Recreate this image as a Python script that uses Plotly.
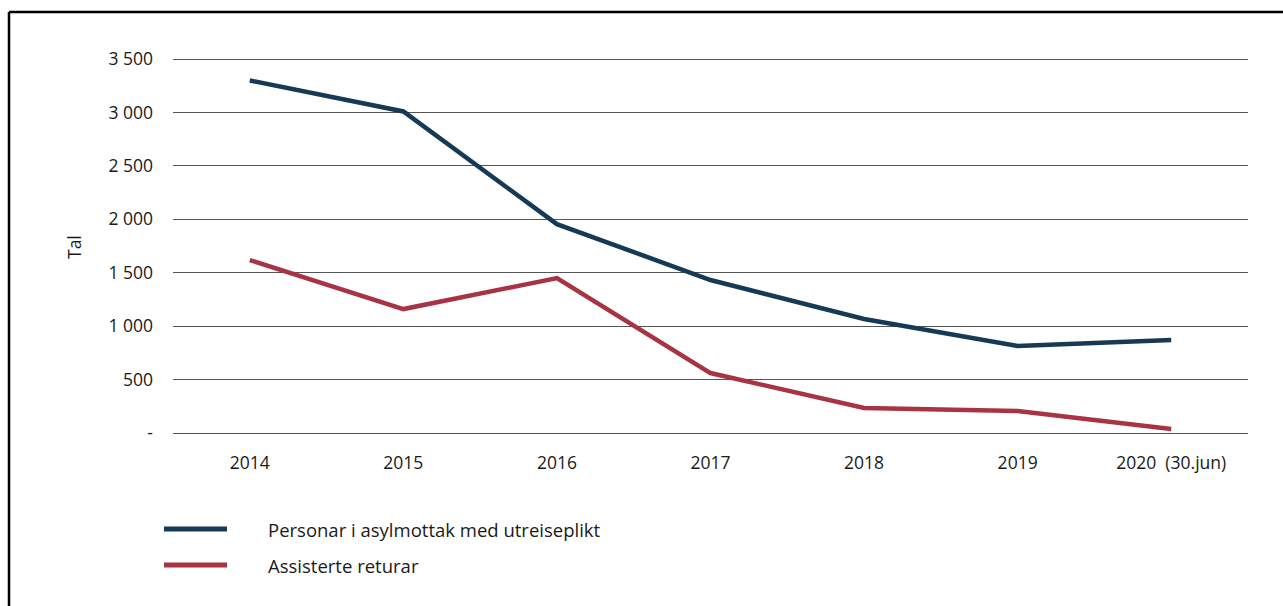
import plotly.graph_objects as go

categories = ["2014", "2015", "2016", "2017", "2018", "2019", "2020  (30.jun)"]
personar = [3300, 3010, 1955, 1432, 1067, 814, 870]
returar = [1619, 1160, 1450, 561, 234, 206, 37]
series_names = ["Personar i asylmottak med utreiseplikt", "Assisterte returar"]
ytick_vals = [0, 500, 1000, 1500, 2000, 2500, 3000, 3500]
ytick_text = ["-", "500", "1 000", "1 500", "2 000", "2 500", "3 000", "3 500"]

blue = "#163a55"
red = "#a83443"
FONT = "Open Sans"
TXT = "#1a1a1a"

fig = go.Figure()
fig.add_trace(go.Scatter(x=categories, y=personar, mode="lines", name=series_names[0],
                         line=dict(color=blue, width=4.5), showlegend=False))
fig.add_trace(go.Scatter(x=categories, y=returar, mode="lines", name=series_names[1],
                         line=dict(color=red, width=4.5), showlegend=False))

W, H = 1283, 606
L, R, T, B = 173, 35, 58, 173
pw, ph = W - L - R, H - T - B

def px(x):
    return (x - L) / pw

def py(y):
    return (H - B - y) / ph

shapes = [
    # frame
    dict(type="line", xref="paper", yref="paper", x0=px(9), x1=px(1290), y0=py(12), y1=py(12),
         line=dict(color="black", width=2.5)),
    dict(type="line", xref="paper", yref="paper", x0=px(9), x1=px(9), y0=py(12), y1=py(620),
         line=dict(color="black", width=2.5)),
    # legend lines
    dict(type="line", xref="paper", yref="paper", x0=px(164), x1=px(227), y0=py(529), y1=py(529),
         line=dict(color=blue, width=5)),
    dict(type="line", xref="paper", yref="paper", x0=px(164), x1=px(227), y0=py(565), y1=py(565),
         line=dict(color=red, width=5)),
]

annotations = [
    dict(text="Tal", xref="paper", yref="paper", x=px(60), y=py(247), textangle=-90,
         showarrow=False, font=dict(family=FONT, size=17.5, color=TXT)),
    dict(text=series_names[0], xref="paper", yref="paper", x=px(266), y=py(529), xanchor="left",
         yanchor="middle", showarrow=False, font=dict(family=FONT, size=18.5, color=TXT)),
    dict(text=series_names[1], xref="paper", yref="paper", x=px(266), y=py(565), xanchor="left",
         yanchor="middle", showarrow=False, font=dict(family=FONT, size=18.5, color=TXT)),
]

fig.update_layout(
    width=W, height=H,
    margin=dict(l=L, r=R, t=T, b=B),
    paper_bgcolor="white", plot_bgcolor="white",
    font=dict(family=FONT, size=17.5, color=TXT),
    shapes=shapes, annotations=annotations,
    showlegend=False,
)
fig.update_xaxes(type="category", range=[-0.5, 6.5], showgrid=False, zeroline=False,
                 showline=False, ticks="", ticklabelstandoff=17,
                 tickfont=dict(family=FONT, size=17.5, color=TXT))
fig.update_yaxes(range=[0, 3510], tickvals=ytick_vals, ticktext=ytick_text,
                 showgrid=True, gridcolor="#555", gridwidth=1,
                 zeroline=True, zerolinecolor="#555", zerolinewidth=1,
                 showline=False, ticks="", ticklabelstandoff=19,
                 tickfont=dict(family=FONT, size=17.5, color=TXT))

fig.write_html("out.html", config={"displayModeBar": False},
               post_script="document.body.style.margin='0px';document.body.style.overflow='hidden';")
